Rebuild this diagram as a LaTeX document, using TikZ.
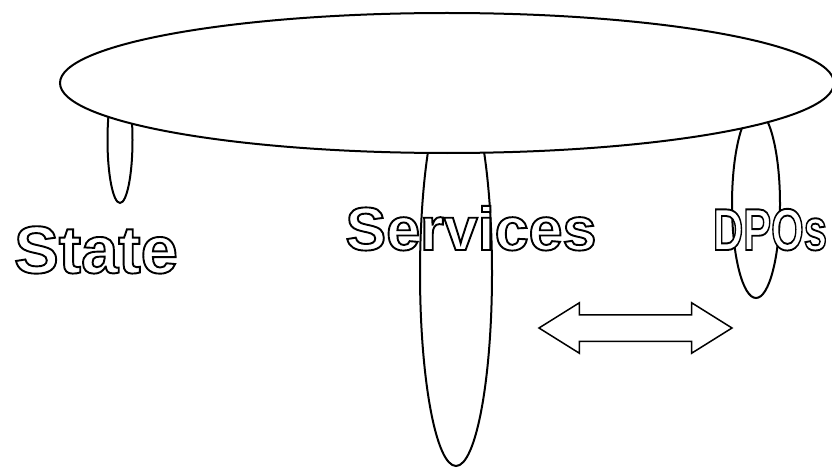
\documentclass[tikz,border=0pt]{standalone}
\usepackage{fontspec}
\setmainfont{Liberation Sans}
\usetikzlibrary{shapes.geometric, shapes.arrows}

% hollow lettering: white fill, black stroke
\newcommand\hollowtext[1]{{\color{white}\special{pdf:literal direct 0 G 1.9 w 2 Tr}#1\special{pdf:literal direct 0 Tr}}}

\begin{document}
\begin{tikzpicture}[x=1pt, y=-1pt,
  lobe/.style={ellipse, draw, fill=white, line width=2pt, inner sep=0pt},
  word/.style={anchor=base, inner sep=0pt, font=\bfseries},
  twoway/.style={double arrow, draw, fill=white, line width=1.5pt, inner xsep=0pt, inner ysep=12.5pt,
    double arrow tip angle=64, double arrow head extend=12pt}
]
  \useasboundingbox (0,0) rectangle (832,468);

  \node[lobe, minimum width=25pt, minimum height=126pt] (state) at (120,140) {};
  \node[lobe, minimum width=72pt, minimum height=386pt] (services) at (456,273) {};
  \node[lobe, minimum width=48pt, minimum height=188pt] (dpos) at (756,204) {};

  \node[lobe, minimum width=774pt, minimum height=140pt] (whole) at (447,83) {};

  \node[word, font=\bfseries\fontsize{67}{67}\selectfont] (statetext) at (96,273) {\hollowtext{State}};
  \node[word, font=\bfseries\fontsize{61}{61}\selectfont] (servicestext) at (471,250) {\hollowtext{Services}};
  \node[word, font=\bfseries\fontsize{59}{59}\selectfont, xscale=0.71] (dpostext) at (770,250) {\hollowtext{DPOs}};

  \node[twoway, minimum height=193pt] (link) at (635.5,328) {};
\end{tikzpicture}
\end{document}
